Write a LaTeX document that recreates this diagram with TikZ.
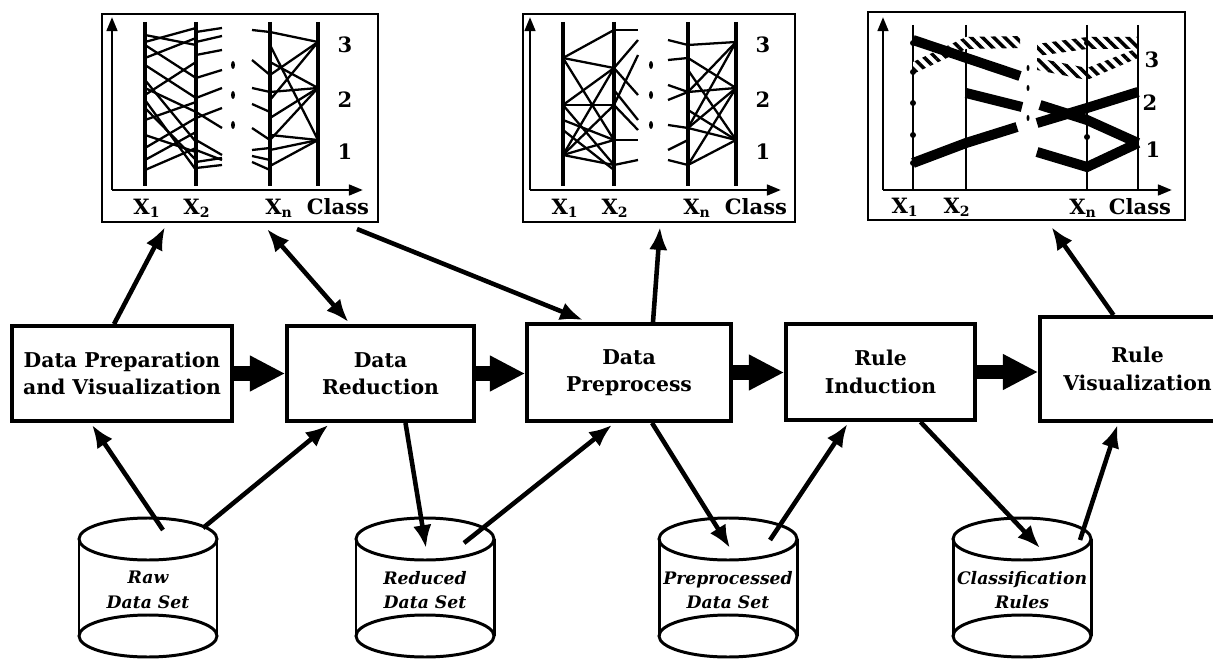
\documentclass[tikz,border=0pt]{standalone}
\usepackage{fontspec}
\setmainfont{DejaVu Serif}
\usetikzlibrary{arrows.meta,calc,patterns.meta,positioning}
\newcommand\boxfont{\fontsize{11.6}{15.5}\selectfont\bfseries}
\newcommand\dbfont{\fontsize{9.8}{14}\selectfont\bfseries\itshape}
\newcommand\labfont{\fontsize{12}{15}\selectfont\bfseries}
\begin{document}
\begin{tikzpicture}[
    x=0.02cm, y=-0.02cm,
    box/.style={draw, line width=2.2pt, align=center, font=\boxfont, inner sep=2pt},
    dbtext/.style={align=center, font=\dbfont, inner sep=0pt},
    dbline/.style={line width=1.7pt},
    panel/.style={draw, line width=1.2pt, inner sep=0pt, minimum height=4.16cm},
    arr/.style={line width=2.6pt, -{Latex[length=13pt,width=10.5pt]}},
    twoarr/.style={line width=2.6pt, {Latex[length=13pt,width=10.5pt]}-{Latex[length=13pt,width=10.5pt]}},
    flow/.style={line width=8pt, -{Triangle[length=20pt,width=19pt]}},
    axis/.style={line width=1.6pt, -{Triangle[length=8pt,width=6pt]}},
    attr/.style={line width=2.6pt},
    pline/.style={line width=1.3pt},
    band/.style={line width=5.7pt},
    hatch/.style={pattern={Lines[angle=-45,distance=4.5pt,line width=2pt]}},
    lab/.style={font=\labfont, inner sep=0pt}
  ]
  \useasboundingbox (0,0) rectangle (1213,665);

  % parallel coordinate panels
  \node[panel, minimum width=5.52cm] (pc1) at (240,118) {};
  \node[panel, minimum width=5.44cm] (pc2) at (659,118) {};
  \node[panel, minimum width=6.34cm] (pc3) at (1026.5,116) {};

  \foreach \s in {0,418} {
    \begin{scope}[shift={(\s,0)}]
      \draw[axis] (112,190) -- (112,17);
      \draw[axis] (112,190) -- (363,190);
      \foreach \ax in {145,196,270,318}
        \draw[attr] (\ax,22) -- (\ax,186);
      \foreach \dy in {65,95,125}
        \fill (233,\dy) ellipse [x radius=2, y radius=4];
      \node[lab] at (147,208) {X\textsubscript{1}};
      \node[lab] at (197,208) {X\textsubscript{2}};
      \node[lab] at (279,208) {X\textsubscript{n}};
      \node[lab] at (338,207) {Class};
      \node[lab] at (345,45) {3};
      \node[lab] at (345,100) {2};
      \node[lab] at (345,152) {1};
    \end{scope}
  }

  \foreach \a/\b in {35/45, 45/78, 58/38, 65/98, 80/142, 95/62, 108/160, 120/102, 135/152, 148/118, 160/132, 170/148, 100/170, 88/112, 42/28}
    \draw[pline] (145,\a) -- (196,\b);
  \foreach \a/\b in {32/28, 42/36, 55/50, 78/70, 98/88, 112/128, 118/108, 140/155, 150/160, 162/158, 168/165}
    \draw[pline] (196,\a) -- (222,\b);
  \foreach \a/\b in {30/32, 60/75, 88/92, 104/112, 128/140, 150/148, 156/160, 162/170}
    \draw[pline] (252,\a) -- (270,\b);
  \foreach \a/\b in {32/42, 45/140, 62/88, 75/42, 92/88, 100/42, 118/88, 135/140, 150/140, 166/140, 140/88}
    \draw[pline] (270,\a) -- (318,\b);

  \begin{scope}[shift={(418,0)}]
    \foreach \a/\b in {58/30, 58/68, 58/140, 105/68, 105/105, 105/165, 155/105, 155/68, 155/140, 155/165, 130/170, 120/140}
      \draw[pline] (145,\a) -- (196,\b);
    \foreach \a/\b in {30/30, 68/40, 68/95, 105/55, 105/130, 140/140, 165/160, 90/120}
      \draw[pline] (196,\a) -- (220,\b);
    \foreach \a/\b in {40/45, 60/58, 85/92, 100/92, 125/128, 160/165, 150/140}
      \draw[pline] (250,\a) -- (270,\b);
    \foreach \a/\b in {45/42, 58/88, 92/42, 92/88, 128/42, 128/88, 128/140, 165/140, 165/88, 110/140, 70/140}
      \draw[pline] (270,\a) -- (318,\b);
  \end{scope}

  \draw[axis] (883,190) -- (883,17);
  \draw[axis] (883,190) -- (1172,190);
  \foreach \ax in {913,966,1087,1138}
    \draw[line width=1.6pt] (\ax,25) -- (\ax,190);
  \fill[white] (913,62) -- (966,37) -- (1020,36) -- (1020,48) -- (966,49) -- (913,74) -- cycle;
  \fill[hatch] (913,62) -- (966,37) -- (1020,36) -- (1020,48) -- (966,49) -- (913,74) -- cycle;
  \fill[hatch] (1037,44) -- (1087,37) -- (1138,37) -- (1138,49) -- (1087,49) -- (1037,56) -- cycle;
  \fill[hatch] (1037,58) -- (1087,68) -- (1138,48) -- (1138,58) -- (1087,80) -- (1037,70) -- cycle;
  \draw[band] (913,40) -- (1020,76);
  \draw[band] (966,93) -- (1022,107);
  \draw[band] (913,163) -- (966,143) -- (1017,127);
  \draw[band] (1037,123) -- (1087,108) -- (1138,92);
  \draw[band] (1040,105) -- (1087,120) -- (1138,143);
  \draw[band] (1037,152) -- (1087,167) -- (1138,143);
  \foreach \dy in {43,72,103,135,163}
    \fill (913,\dy) circle [radius=3];
  \foreach \dy in {43,137}
    \fill (1087,\dy) circle [radius=3];
  \foreach \dy in {68,88,118}
    \fill (1028,\dy) ellipse [x radius=1.5, y radius=3];
  \node[lab] at (905,207) {X\textsubscript{1}};
  \node[lab] at (957,207) {X\textsubscript{2}};
  \node[lab] at (1083,208) {X\textsubscript{n}};
  \node[lab] at (1140,207) {Class};
  \node[lab] at (1152,60) {3};
  \node[lab] at (1150,103) {2};
  \node[lab] at (1153,150) {1};

  % process boxes
  \node[box, minimum width=4.4cm, minimum height=1.9cm] (b1) at (122,373.5) {Data Preparation\\and Visualization};
  \node[box, minimum width=3.74cm, minimum height=1.9cm] (b2) at (380.5,373.5) {Data\\Reduction};
  \node[box, minimum width=4.08cm, minimum height=1.94cm] (b3) at (629,372.5) {Data\\Preprocess};
  \node[box, minimum width=3.78cm, minimum height=1.92cm] (b4) at (880.5,372) {Rule\\Induction};
  \node[box, minimum width=3.9cm, minimum height=2.08cm] (b5) at (1137.5,369) {Rule\\Visualization};

  \foreach \a/\b in {b1/b2,b2/b3,b3/b4,b4/b5}
    \draw[flow] (\a.east) -- (\a.east -| \b.west);

  % data stores
  \foreach \n/\x/\txt in {raw/148/Raw\\Data Set, red/425/Reduced\\Data Set, pre/728/Preprocessed\\Data Set, cls/1022/Classification\\Rules} {
    \draw[dbline] (\x-69,539) -- (\x-69,636) (\x+69,539) -- (\x+69,636);
    \draw[dbline] (\x,539) ellipse [x radius=69, y radius=21];
    \draw[dbline] (\x,636) ellipse [x radius=69, y radius=21];
    \node[dbtext] (\n) at (\x,590) {\txt};
  }

  \draw[arr] ($(b1.north)+(-8,0)$) -- ($(pc1.south)+(-75,4)$);
  \draw[twoarr] ($(pc1.south)+(27,6)$) -- ($(b2.north)+(-32,-2)$);
  \draw[arr] ($(pc1.south)+(117,6)$) -- ($(b3.north)+(-46,-2)$);
  \draw[arr] ($(b3.north)+(24,0)$) -- ($(pc2.south)+(1,4)$);
  \draw[arr] ($(b5.north)+(-24,0)$) -- ($(pc3.south)+(25,6)$);
  \draw[arr] ($(raw.center)+(15,-60)$) -- ($(b1.south)+(-30,2)$);
  \draw[arr] ($(raw.center)+(55,-62)$) -- ($(b2.south)+(-52,2)$);
  \draw[arr] ($(b2.south)+(25,0)$) -- ($(red.center)+(1,-42)$);
  \draw[arr] ($(red.center)+(39,-47)$) -- ($(b3.south)+(-17,2)$);
  \draw[arr] ($(b3.south)+(23,0)$) -- ($(pre.center)+(2,-42)$);
  \draw[arr] ($(pre.center)+(42,-50)$) -- ($(b4.south)+(-33,2)$);
  \draw[arr] ($(b4.south)+(40,0)$) -- ($(cls.center)+(18,-42)$);
  \draw[arr] ($(cls.center)+(58,-50)$) -- ($(b5.south)+(-20,2)$);
\end{tikzpicture}
\end{document}
